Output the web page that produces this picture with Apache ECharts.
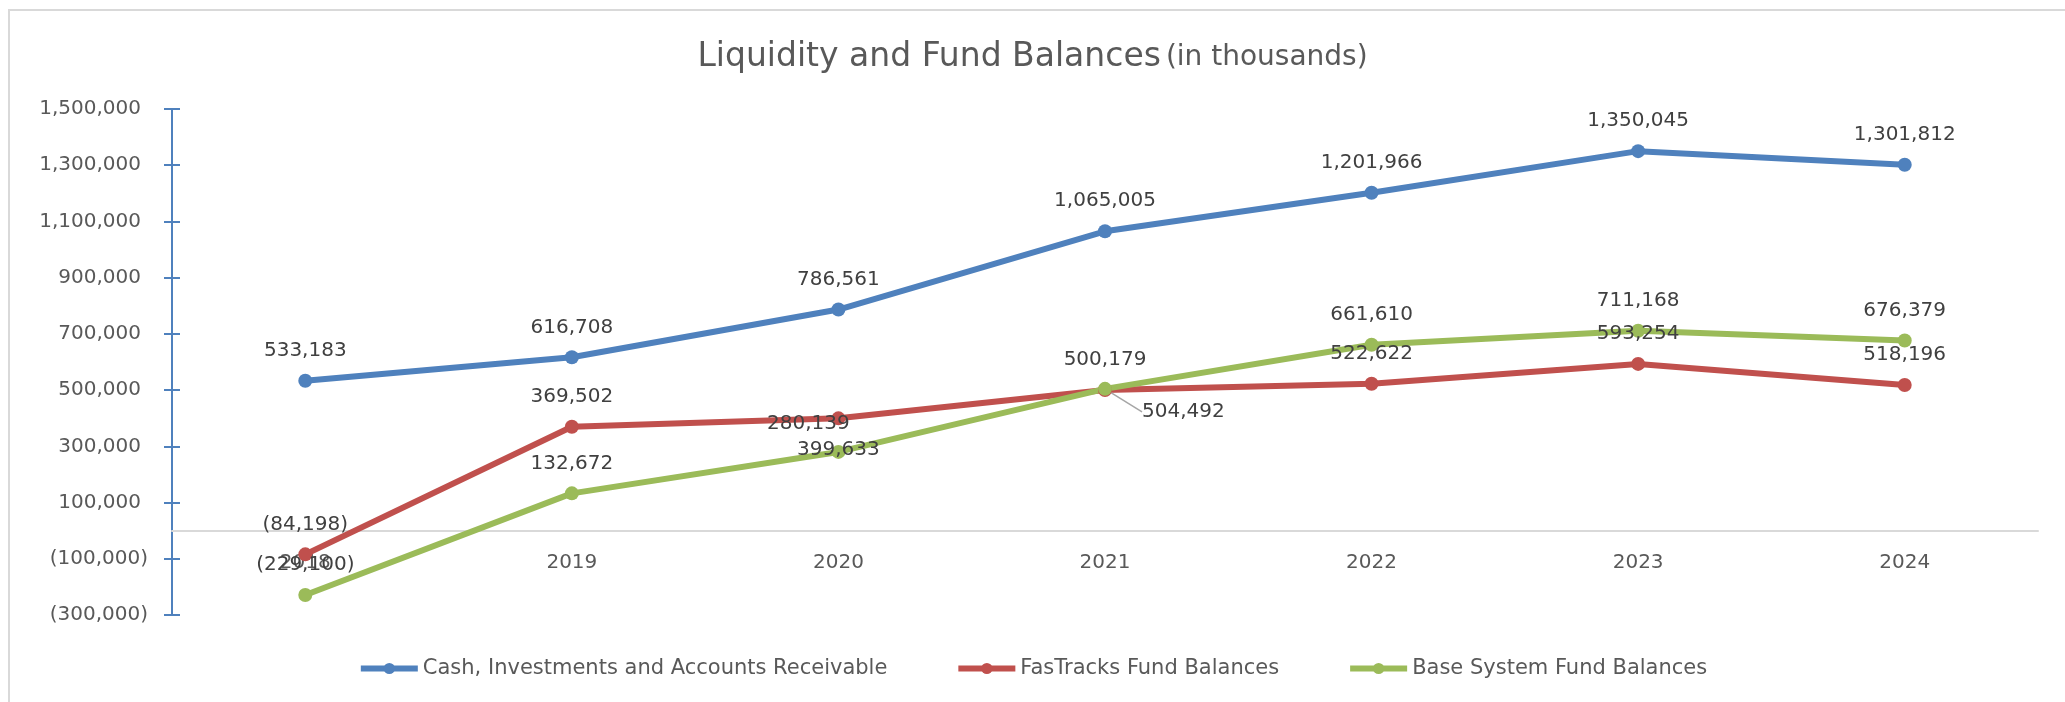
<!DOCTYPE html>
<html>
<head>
<meta charset="utf-8">
<script src="https://cdn.jsdelivr.net/npm/echarts@6/dist/echarts.min.js"></script>
<style>
  html, body { margin: 0; padding: 0; background: #fff; }
  #liquidity-line { width: 2065px; height: 702px; }
</style>
</head>
<body>
<div id="liquidity-line"></div>
<script>
var years = ['2018', '2019', '2020', '2021', '2022', '2023', '2024'];
var cashValues = [533183, 616708, 786561, 1065005, 1201966, 1350045, 1301812];
var fasTracksValues = [-84198, 369502, 399633, 500179, 522622, 593254, 518196];
var baseSystemValues = [-229100, 132672, 280139, 504492, 661610, 711168, 676379];
var yTicks = [-300000, -100000, 100000, 300000, 500000, 700000, 900000, 1100000, 1300000, 1500000];

var fontFamily = '"DejaVu Sans", Verdana, sans-serif';

function fmt(v) {
    var s = Math.abs(v).toLocaleString('en-US');
    return v < 0 ? '(' + s + ')' : s;
}

function buildData(values, overrides) {
    return values.map(function (v, i) {
        var item = { value: v };
        if (overrides && overrides[i]) {
            for (var k in overrides[i]) item[k] = overrides[i][k];
        }
        return item;
    });
}

var labelStyle = {
    show: true,
    position: 'top',
    distance: 13,
    fontSize: 20,
    fontFamily: fontFamily,
    color: '#404040',
    formatter: function (p) { return fmt(p.value); }
};

function lineSeries(name, color, values, overrides, extra) {
    var s = {
        name: name,
        type: 'line',
        data: buildData(values, overrides),
        symbol: 'circle',
        symbolSize: 14,
        lineStyle: { color: color, width: 6 },
        itemStyle: { color: color },
        label: labelStyle
    };
    for (var k in extra) s[k] = extra[k];
    return s;
}

var liquidityLine = echarts.init(document.getElementById('liquidity-line'));

option = {
    animation: false,
    backgroundColor: '#fff',
    graphic: [{
        type: 'rect',
        shape: { x: 9, y: 10, width: 2200, height: 800 },
        style: { fill: 'none', stroke: '#d9d9d9', lineWidth: 2 },
        silent: true
    }],
    title: {
        text: '{a|Liquidity and Fund Balances} {b|(in thousands)}',
        left: 'center',
        top: 36,
        textStyle: {
            fontWeight: 'normal',
            rich: {
                a: { fontSize: 33, fontWeight: 'normal', fontFamily: fontFamily, color: '#595959' },
                b: { fontSize: 28, fontWeight: 'normal', fontFamily: fontFamily, color: '#595959' }
            }
        }
    },
    legend: {
        bottom: 18,
        left: 'center',
        itemWidth: 57,
        itemHeight: 14,
        itemGap: 68,
        lineStyle: { width: 6 },
        textStyle: { fontSize: 21, fontFamily: fontFamily, color: '#595959' },
        data: ['Cash, Investments and Accounts Receivable', 'FasTracks Fund Balances', 'Base System Fund Balances']
    },
    grid: {
        left: 172,
        right: 27,
        top: 109,
        bottom: 87
    },
    xAxis: {
        type: 'category',
        data: years,
        boundaryGap: true,
        offset: -84,
        axisLine: { onZero: false, lineStyle: { color: '#d9d9d9', width: 2 } },
        axisTick: { show: false },
        axisLabel: { margin: 22, fontSize: 20, fontFamily: fontFamily, color: '#595959' },
        splitLine: { show: false }
    },
    yAxis: [{
        type: 'value',
        min: -300000,
        max: 1500000,
        axisLine: { show: true, lineStyle: { color: '#4f81bd', width: 2 } },
        axisTick: { show: true, length: 8, customValues: yTicks, lineStyle: { color: '#4f81bd', width: 2 } },
        axisLabel: {
            margin: 24,
            customValues: yTicks,
            fontSize: 20,
            fontFamily: fontFamily,
            color: '#595959',
            formatter: function (v) {
                return v < 0 ? '{n|' + fmt(v) + '}' : '{p|' + fmt(v) + '}';
            },
            rich: {
                n: { fontSize: 20, fontFamily: fontFamily, color: '#595959' },
                p: { fontSize: 20, fontFamily: fontFamily, color: '#595959', padding: [0, 7, 0, 0] }
            }
        },
        splitLine: { show: false }
    }, {
        type: 'value',
        position: 'left',
        min: -300000,
        max: 1500000,
        axisLine: { show: false },
        axisTick: { show: true, inside: true, length: 8, customValues: yTicks, lineStyle: { color: '#4f81bd', width: 2 } },
        axisLabel: { show: false },
        splitLine: { show: false }
    }],
    series: [
        lineSeries('Cash, Investments and Accounts Receivable', '#4f81bd', cashValues),
        lineSeries('FasTracks Fund Balances', '#c0504d', fasTracksValues, {
            2: { label: { position: 'bottom', distance: 14 } }
        }),
        lineSeries('Base System Fund Balances', '#9bbb59', baseSystemValues, {
            3: {
                label: { position: 'right', distance: 30 },
                labelLine: { show: true, lineStyle: { color: '#a6a6a6', width: 1.5 } }
            }
        }, {
            labelLayout: function (p) {
                if (p.dataIndex === 2) return { dx: -30, dy: 2 };
                if (p.dataIndex === 3) return { dy: 23 };
                return {};
            }
        })
    ]
};

liquidityLine.setOption(option);
</script>
</body>
</html>
